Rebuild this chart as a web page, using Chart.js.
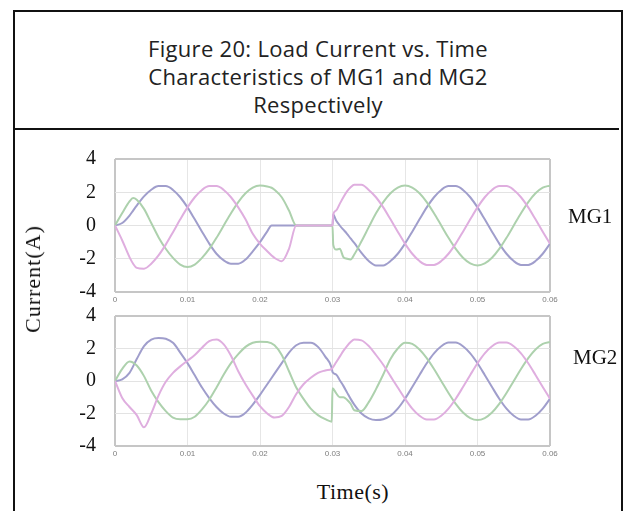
<!DOCTYPE html>
<html>
<head>
<meta charset="utf-8">
<script src="https://cdn.jsdelivr.net/npm/chart.js@4"></script>
<style>
  html, body { margin: 0; padding: 0; background: #fff; width: 633px; height: 511px; overflow: hidden; }
  #frame { position: absolute; left: 13px; top: 10px; width: 606px; height: 530px; border: 2px solid #111; }
  #titleBox { position: absolute; left: 13px; top: 10px; width: 606px; height: 118px; border-bottom: 2px solid #111; }
  #title { position: absolute; left: 13px; top: 34px; width: 610px; text-align: center; letter-spacing: 0.3px;
           font-family: "Open Sans", sans-serif; font-size: 22px; line-height: 28px; color: #222; }
  canvas { position: absolute; left: 0; }
  .lbl { position: absolute; font-family: "Liberation Serif", serif; color: #111; white-space: nowrap; }
  #yTitle { left: 33px; top: 279px; font-size: 22px; letter-spacing: 1px; transform: translate(-50%, -50%) rotate(-90deg); }
  #xTitle { left: 353px; top: 492px; font-size: 22px; letter-spacing: 0.5px; transform: translate(-50%, -50%); }
  #mg1 { left: 568px; top: 204px; font-size: 21px; }
  #mg2 { left: 573px; top: 345px; font-size: 21px; }
</style>
</head>
<body>
<div id="frame"></div>
<div id="titleBox"></div>
<div id="title">Figure 20: Load Current vs. Time<br>Characteristics of MG1 and MG2<br>Respectively</div>
<canvas id="chartMG1" width="633" height="165" style="top:140px"></canvas>
<canvas id="chartMG2" width="633" height="165" style="top:303px"></canvas>
<div class="lbl" id="yTitle">Current(A)</div>
<div class="lbl" id="xTitle">Time(s)</div>
<div class="lbl" id="mg1">MG1</div>
<div class="lbl" id="mg2">MG2</div>
<script>
// time samples (s) and three phase currents (A)
const timeMG1 = [0, 0.001, 0.002, 0.0025, 0.003, 0.004, 0.005, 0.006, 0.007, 0.008, 0.009, 0.010,
  0.011, 0.012, 0.013, 0.014, 0.015, 0.016, 0.017, 0.018, 0.019, 0.020, 0.021, 0.0216,
  0.022, 0.023, 0.024, 0.025, 0.026, 0.027, 0.028, 0.029, 0.030, 0.0301, 0.0305,
  0.031, 0.0315, 0.032, 0.0325, 0.033, 0.034, 0.035, 0.036, 0.037, 0.038, 0.039, 0.040,
  0.041, 0.042, 0.043, 0.044, 0.045, 0.046, 0.047, 0.048, 0.049, 0.050,
  0.051, 0.052, 0.053, 0.054, 0.055, 0.056, 0.057, 0.058, 0.059, 0.060];
const mg1PhaseA = [0, 0.15, 0.6, 0.9, 1.2, 1.75, 2.15, 2.37, 2.37, 2.14, 1.7, 1.09,
  0.37, -0.37, -1.09, -1.7, -2.1, -2.3, -2.3, -2.05, -1.55, -1.0, -0.35, 0,
  0, 0, 0, 0, 0, 0, 0, 0, 0, 0.66, 0.3,
  0.0, -0.25, -0.5, -0.78, -1.05, -1.65, -2.14, -2.4, -2.4, -2.14, -1.7, -1.09,
  -0.37, 0.37, 1.09, 1.7, 2.14, 2.37, 2.37, 2.14, 1.7, 1.09,
  0.37, -0.37, -1.09, -1.7, -2.14, -2.37, -2.37, -2.14, -1.7, -1.09];
const mg1PhaseB = [0, -0.9, -1.9, -2.3, -2.55, -2.6, -2.3, -1.8, -1.15, -0.4, 0.37, 1.09,
  1.7, 2.14, 2.37, 2.37, 2.14, 1.7, 1.09, 0.37, -0.5, -1.1, -1.55, -1.8,
  -1.95, -2.15, -1.4, 0, 0, 0, 0, 0, 0, 0.66, 0.9,
  1.3, 1.7, 2.05, 2.3, 2.45, 2.45, 2.14, 1.7, 1.09, 0.37, -0.37, -1.09,
  -1.7, -2.14, -2.37, -2.37, -2.14, -1.7, -1.09, -0.37, 0.37, 1.09,
  1.7, 2.14, 2.37, 2.37, 2.14, 1.7, 1.09, 0.37, -0.37, -1.09];
const mg1PhaseC = [0, 0.75, 1.45, 1.65, 1.55, 1.0, 0.15, -0.7, -1.4, -1.95, -2.35, -2.5,
  -2.35, -1.95, -1.41, -0.74, 0, 0.74, 1.41, 1.94, 2.28, 2.4, 2.35, 2.27,
  2.15, 1.7, 0.9, 0, 0, 0, 0, 0, 0, -1.15, -1.45,
  -1.4, -1.9, -2.0, -2.05, -1.75, -0.95, -0.1, 0.74, 1.41, 1.94, 2.28, 2.4,
  2.28, 1.94, 1.41, 0.74, 0, -0.74, -1.41, -1.94, -2.28, -2.4,
  -2.28, -1.94, -1.41, -0.74, 0, 0.74, 1.41, 1.94, 2.28, 2.4];

const timeMG2 = [0, 0.001, 0.002, 0.003, 0.004, 0.005, 0.006, 0.007, 0.008, 0.009, 0.010,
  0.011, 0.012, 0.013, 0.014, 0.015, 0.016, 0.017, 0.018, 0.019, 0.020,
  0.021, 0.022, 0.023, 0.024, 0.025, 0.026, 0.027, 0.028, 0.029, 0.0299, 0.030,
  0.0305, 0.031, 0.0315, 0.032, 0.0325, 0.033, 0.034, 0.035, 0.036, 0.037, 0.038, 0.039, 0.040,
  0.041, 0.042, 0.043, 0.044, 0.045, 0.046, 0.047, 0.048, 0.049, 0.050,
  0.051, 0.052, 0.053, 0.054, 0.055, 0.056, 0.057, 0.058, 0.059, 0.060];
const mg2PhaseA = [0, 0.1, 0.5, 1.35, 2.15, 2.55, 2.65, 2.6, 2.35, 1.75, 1.1,
  0.35, -0.4, -1.05, -1.6, -2.0, -2.2, -2.2, -1.95, -1.45, -0.85,
  -0.2, 0.45, 1.1, 1.75, 2.2, 2.35, 2.35, 2.1, 1.5, 0.8, 0.55,
  0.4, 0.05, -0.3, -0.7, -1.1, -1.45, -2.0, -2.3, -2.4, -2.35, -2.14, -1.7, -1.09,
  -0.37, 0.37, 1.09, 1.7, 2.14, 2.37, 2.37, 2.14, 1.7, 1.09,
  0.37, -0.37, -1.09, -1.7, -2.14, -2.37, -2.37, -2.14, -1.7, -1.09];
const mg2PhaseB = [0, -1.05, -1.6, -2.1, -2.85, -2.0, -0.9, -0.05, 0.5, 0.9, 1.25,
  1.6, 2.05, 2.45, 2.55, 2.25, 1.55, 0.6, -0.2, -0.9, -1.55,
  -2.0, -2.25, -2.15, -1.6, -0.8, -0.2, 0.2, 0.5, 0.65, 0.75, 0.8,
  1.15, 1.5, 1.85, 2.15, 2.4, 2.55, 2.5, 2.15, 1.6, 1.0, 0.3, -0.4, -1.09,
  -1.7, -2.14, -2.37, -2.37, -2.14, -1.7, -1.09, -0.37, 0.37, 1.09,
  1.7, 2.14, 2.37, 2.37, 2.14, 1.7, 1.09, 0.37, -0.37, -1.09];
const mg2PhaseC = [0, 0.75, 1.2, 0.95, 0.3, -0.6, -1.3, -1.85, -2.25, -2.35, -2.35,
  -2.2, -1.75, -1.15, -0.4, 0.4, 1.1, 1.65, 2.1, 2.35, 2.42,
  2.4, 2.2, 1.6, 0.6, -0.4, -1.1, -1.7, -2.1, -2.35, -2.5, -0.45,
  -0.75, -1.0, -1.0, -1.15, -1.4, -1.8, -1.85, -1.3, -0.5, 0.4, 1.35, 2.0, 2.35,
  2.28, 1.94, 1.41, 0.74, 0, -0.74, -1.41, -1.94, -2.28, -2.4,
  -2.28, -1.94, -1.41, -0.74, 0, 0.74, 1.41, 1.94, 2.28, 2.4];

const yTicks = [-4, -2, 0, 2, 4];
const xTicks = [0, 0.01, 0.02, 0.03, 0.04, 0.05, 0.06];

const pink = '#dfaedf';
const green = '#add1ad';
const blue = '#a09ecc';

function series(time, vals, color) {
  return {
    data: time.map((t, i) => ({ x: t, y: vals[i] })),
    borderColor: color,
    borderWidth: 2,
    pointRadius: 0,
    cubicInterpolationMode: 'monotone',
    fill: false
  };
}

function makeChart(id, time, a, b, c, padTop, xHeight) {
  const edge = v => Math.abs(v - 0.06) < 1e-9 || Math.abs(v) < 1e-9;
  return new Chart(document.getElementById(id), {
    type: 'line',
    data: { datasets: [series(time, b, pink), series(time, c, green), series(time, a, blue)] },
    options: {
      responsive: false,
      animation: false,
      layout: { padding: { top: padTop, right: 83, left: 0, bottom: 0 } },
      plugins: { legend: { display: false }, tooltip: { enabled: false } },
      scales: {
        x: {
          type: 'linear', min: 0, max: 0.06,
          afterBuildTicks: s => { s.ticks = xTicks.map(v => ({ value: v })); },
          afterFit: s => { s.height = xHeight; },
          border: { display: false },
          grid: {
            drawTicks: false,
            color: ctx => edge(ctx.tick.value) ? '#c6c6c6' : '#e6e6e6',
            lineWidth: ctx => edge(ctx.tick.value) ? 2 : 1
          },
          ticks: {
            padding: 3, color: '#7d7d7d', maxRotation: 0,
            font: { family: 'Liberation Sans', size: 8 },
            callback: v => String(Number(v.toFixed(2)))
          }
        },
        y: {
          min: -4, max: 4,
          afterBuildTicks: s => { s.ticks = yTicks.map(v => ({ value: v })); },
          afterFit: s => { s.width = 115; },
          border: { display: false },
          grid: {
            drawTicks: true, tickLength: 19, tickColor: 'rgba(0,0,0,0)',
            color: ctx => Math.abs(ctx.tick.value) === 4 ? '#c6c6c6' : '#e3e3e3',
            lineWidth: ctx => Math.abs(ctx.tick.value) === 4 ? 2 : 1
          },
          ticks: {
            padding: 0, color: '#111',
            font: { family: 'Liberation Serif', size: 20 }
          }
        }
      }
    }
  });
}

makeChart('chartMG1', timeMG1, mg1PhaseA, mg1PhaseB, mg1PhaseC, 19, 13);
makeChart('chartMG2', timeMG2, mg2PhaseA, mg2PhaseB, mg2PhaseC, 13, 22);
</script>
</body>
</html>
